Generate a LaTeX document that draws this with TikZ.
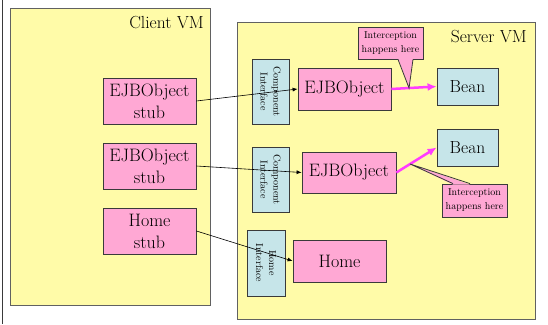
\documentclass[tikz,border=0pt]{standalone}
\usepackage{fontspec}
\usetikzlibrary{arrows.meta,calc}
\definecolor{vmyellow}{HTML}{FFFBA8}
\definecolor{stubpink}{HTML}{FFA8D4}
\definecolor{ifaceblue}{HTML}{C6E5E9}
\definecolor{callmag}{HTML}{FF3CFF}
\definecolor{edgegray}{HTML}{3A3A3A}
\tikzset{
  vmbox/.style={draw=edgegray!80, line width=0.9pt, fill=vmyellow, inner sep=0pt},
  vmlabel/.style={font=\fontsize{17.5}{21}\selectfont, inner sep=0pt, anchor=base east},
  pinkbox/.style={draw=edgegray, line width=0.8pt, fill=stubpink, inner sep=0pt,
    align=center, font=\fontsize{18}{22}\selectfont},
  beanbox/.style={draw=edgegray, line width=0.8pt, fill=ifaceblue, inner sep=0pt,
    font=\fontsize{17.5}{21}\selectfont, minimum width=61pt, minimum height=37pt},
  ifacebox/.style={draw=edgegray, line width=0.8pt, fill=ifaceblue, inner sep=0pt,
    rotate=-90, align=center, font=\fontsize{10}{13}\selectfont},
  callbox/.style={draw=edgegray, line width=0.8pt, fill=stubpink, inner sep=0pt,
    align=center, font=\fontsize{10}{14}\selectfont, minimum width=65pt},
  call/.style={draw=black, line width=0.6pt, -{Latex[length=5pt,width=4pt]}},
  hop/.style={draw=callmag, line width=2.5pt, -{Latex[length=9pt,width=8pt]}},
}
\begin{document}
\begin{tikzpicture}[x=1pt,y=-1pt]
\useasboundingbox (0,0) rectangle (548,324);
% page edge on the left
\draw[edgegray, line width=0.8pt] (2,0) -- (2,324);

% the two virtual machines
\node[vmbox, minimum width=200pt, minimum height=297pt] (client) at (110,156.5) {};
\node[vmlabel] (clientlbl) at (204,28) {Client VM};
\node[vmbox, minimum width=298pt, minimum height=297pt] (server) at (386,170.5) {};
\node[vmlabel] (serverlbl) at (527,42) {Server VM};

% client side stubs
\node[pinkbox, minimum width=93pt, minimum height=46pt] (s1) at (149.5,101) {EJBObject\\stub};
\node[pinkbox, minimum width=93pt, minimum height=46pt] (s2) at (149.5,166) {EJBObject\\stub};
\node[pinkbox, minimum width=93pt, minimum height=46pt] (hs) at (149.5,231) {Home\\stub};

% server side interfaces
\node[ifacebox, minimum width=65pt, minimum height=37pt] (ci1) at (270.5,91.5) {Component\\Interface};
\node[ifacebox, minimum width=65pt, minimum height=37pt] (ci2) at (270.5,179.5) {Component\\Interface};
\node[ifacebox, minimum width=66pt, minimum height=38pt] (hi) at (266,263) {Home\\Interface};

% server side objects
\node[pinkbox, minimum width=93pt, minimum height=42pt] (e1) at (344.5,89) {EJBObject};
\node[pinkbox, minimum width=94pt, minimum height=41pt] (e2) at (349,172.5) {EJBObject};
\node[pinkbox, minimum width=93pt, minimum height=42pt] (h) at (339.5,261) {Home};
\node[beanbox] (b1) at (467.5,86.5) {Bean};
\node[beanbox] (b2) at (467.5,147.5) {Bean};

% remote calls
\draw[call] (s1.east) -- (e1.west);
\draw[call] (s2.east) -- (e2.west);
\draw[call] (hs.east) -- (h.west);

% calls passed on to the beans
\draw[hop] (e1.east) -- (b1.west) coordinate[pos=0.39] (t1);
\draw[hop] (e2.east) -- (b2.west) coordinate[pos=0.34] (t2);

% interception callouts
\node[callbox, minimum height=32pt] (c1) at (390.5,43) {Interception\\happens here};
\fill[stubpink] ($(c1.south)+(7.5,-1)$) -- (t1) -- ($(c1.south)+(22.5,-1)$) -- cycle;
\draw[edgegray, line width=0.8pt, line join=miter] ($(c1.south)+(7.5,0)$) -- (t1) -- ($(c1.south)+(22.5,0)$);

\node[callbox, minimum height=33pt] (c2) at (474.5,200.5) {Interception\\happens here};
\fill[stubpink] ($(c2.north)+(-21.5,1)$) -- (t2) -- ($(c2.north)+(-4.5,1)$) -- cycle;
\draw[edgegray, line width=0.8pt, line join=miter] ($(c2.north)+(-21.5,0)$) -- (t2) -- ($(c2.north)+(-4.5,0)$);
\end{tikzpicture}
\end{document}
